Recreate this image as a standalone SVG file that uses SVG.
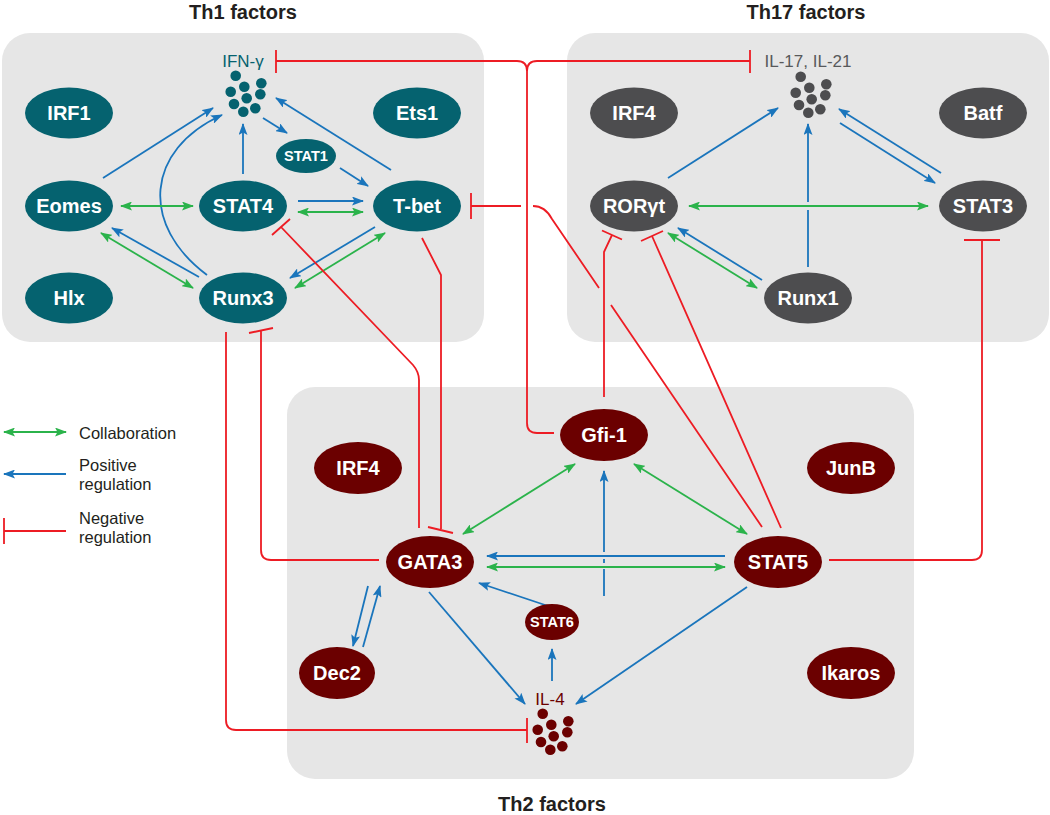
<svg xmlns="http://www.w3.org/2000/svg" xmlns:xlink="http://www.w3.org/1999/xlink" width="1050" height="815" viewBox="0 0 1050 815">
<style>
.box{fill:#e6e6e6}
.title{font-family:"Liberation Sans",Arial,sans-serif;font-weight:bold;font-size:20px;fill:#231f20;text-anchor:middle}
.nt{font-family:"Liberation Sans",Arial,sans-serif;font-weight:bold;font-size:20px;fill:#fff;text-anchor:middle}
.ns{font-family:"Liberation Sans",Arial,sans-serif;font-weight:bold;font-size:14.5px;fill:#fff;text-anchor:middle}
.th1{fill:#05626f}
.th17{fill:#4d4d4f}
.th2{fill:#6b0000}
.lbl{font-family:"Liberation Sans",Arial,sans-serif;font-size:17px;text-anchor:middle}
.leg{font-family:"Liberation Sans",Arial,sans-serif;font-size:16.5px;fill:#231f20}
.b{fill:none;stroke:#1a75bc;stroke-width:1.8;marker-end:url(#ab)}
.bn{fill:none;stroke:#1a75bc;stroke-width:1.8}
.g{fill:none;stroke:#2bb34b;stroke-width:1.8;marker-end:url(#ag);marker-start:url(#ag)}
.r{fill:none;stroke:#ed1c24;stroke-width:1.8}
</style>
<defs>
<marker id="ab" viewBox="0 0 12 9" refX="11" refY="4.5" markerWidth="12" markerHeight="9" markerUnits="userSpaceOnUse" orient="auto-start-reverse"><path d="M0,0 L12,4.5 L0,9 L2.5,4.5 z" fill="#1a75bc"/></marker>
<marker id="ag" viewBox="0 0 12 9" refX="11" refY="4.5" markerWidth="12" markerHeight="9" markerUnits="userSpaceOnUse" orient="auto-start-reverse"><path d="M0,0 L12,4.5 L0,9 L2.5,4.5 z" fill="#2bb34b"/></marker>
<g id="cluster">
<circle cx="-10.3" cy="-18.3" r="5.3"/><circle cx="-1.7" cy="-7.3" r="5.3"/><circle cx="15.3" cy="-10.7" r="5.3"/>
<circle cx="-15.3" cy="-2.3" r="5.3"/><circle cx="0.7" cy="4.3" r="5.3"/><circle cx="14.3" cy="0.3" r="5.3"/>
<circle cx="-12" cy="10" r="5.3"/><circle cx="-2.7" cy="17.7" r="5.3"/><circle cx="9.3" cy="14.3" r="5.3"/>
</g>
</defs>

<g id="boxes">
<rect class="box" x="2" y="33" width="482" height="309" rx="28"/>
<rect class="box" x="567" y="33" width="482" height="309" rx="28"/>
<rect class="box" x="287" y="387" width="627" height="392" rx="28"/>
</g>

<g id="titles">
<text class="title" x="243" y="19">Th1 factors</text>
<text class="title" x="806" y="19">Th17 factors</text>
<text class="title" x="552" y="811">Th2 factors</text>
</g>

<g id="connectors">
<path class="b" d="M103,178 L213,108"/>
<path class="b" d="M207,275 C140,225 145,150 222,115"/>
<path class="b" d="M243,174 L243,124"/>
<path class="b" d="M263,118 L287,133"/>
<path class="b" d="M340,168 L368,186"/>
<path class="b" d="M391,170 L276,98"/>
<path class="b" d="M298,201 L363,201"/>
<path class="b" d="M199,277 L112,228"/>
<path class="b" d="M375,227 L290,278"/>
<path class="g" d="M121,206 L193,206"/>
<path class="g" d="M298,212 L363,212"/>
<path class="g" d="M101,233 L193,288"/>
<path class="g" d="M295,288 L385,233"/>
<path class="b" d="M668,178 L778,108"/>
<path class="bn" d="M808,267 L808,210"/>
<path class="b" d="M808,202 L808,124"/>
<path class="b" d="M941,173 L839,109"/>
<path class="b" d="M840,123 L935,183"/>
<path class="b" d="M762,280 L678,228"/>
<path class="g" d="M689,206 L928,206"/>
<path class="g" d="M668,233 L757,288"/>
<path class="bn" d="M604,596 V569 M604,563 V559"/>
<path class="b" d="M604,552 V471"/>
<path class="b" d="M725,556 L487,556"/>
<path class="b" d="M566,612 L479,583"/>
<path class="b" d="M747,587 L576,704"/>
<path class="b" d="M429,592 L525,704"/>
<path class="b" d="M552,681 L552,649"/>
<path class="b" d="M368,586 L353,646"/>
<path class="b" d="M363,647 L380,586"/>
<path class="g" d="M463,534 L575,464"/>
<path class="g" d="M487,567 L725,567"/>
<path class="g" d="M634,464 L747,534"/>
<path class="r" d="M554,433 H537 Q527,433 527,423 V71 Q527,61 517,61 H276 M276,50 V73"/>
<path class="r" d="M527,71 Q527,61 537,61 H750 M750,50 V73"/>
<path class="r" d="M762,527 L611,305 M599,288 L552,219 Q545,206 533,206 M521,206 H471 M471,193 V219"/>
<path class="r" d="M604,397 V252 L612,235 M602,230.5 L622,239.5"/>
<path class="r" d="M781,528 L652,236 M641,241 L663,231"/>
<path class="r" d="M829,560 H972 Q982,560 982,550 V240 M964,240 H1000"/>
<path class="r" d="M419,528 V380 Q419,372 413,365 L281,227 M272,235 L290,219"/>
<path class="r" d="M422,238 L441,275 V529 M428,527 L453,533"/>
<path class="r" d="M226,332 V720 Q226,730 236,730 H527 M527,718 V743"/>
<path class="r" d="M379,560 H271 Q261,560 261,550 V331 M249,333 L273,328"/>
</g>

<g id="ifng"><text class="lbl" x="243" y="67" fill="#05626f">IFN-γ</text><use xlink:href="#cluster" href="#cluster" x="246" y="94" fill="#05626f"/></g>
<g id="irf1"><ellipse class="th1" cx="69" cy="113" rx="44" ry="25.5"/><text class="nt" x="69" y="120">IRF1</text></g>
<g id="ets1"><ellipse class="th1" cx="417" cy="113" rx="44" ry="25.5"/><text class="nt" x="417" y="120">Ets1</text></g>
<g id="stat1"><ellipse class="th1" cx="306" cy="156" rx="30" ry="17"/><text class="ns" x="306" y="161">STAT1</text></g>
<g id="eomes"><ellipse class="th1" cx="69" cy="206" rx="44" ry="25.5"/><text class="nt" x="69" y="213">Eomes</text></g>
<g id="stat4"><ellipse class="th1" cx="243" cy="206" rx="44" ry="25.5"/><text class="nt" x="243" y="213">STAT4</text></g>
<g id="tbet"><ellipse class="th1" cx="417" cy="206" rx="44" ry="25.5"/><text class="nt" x="417" y="213">T-bet</text></g>
<g id="hlx"><ellipse class="th1" cx="69" cy="298" rx="44" ry="25.5"/><text class="nt" x="69" y="305">Hlx</text></g>
<g id="runx3"><ellipse class="th1" cx="243" cy="298" rx="44" ry="25.5"/><text class="nt" x="243" y="305">Runx3</text></g>

<g id="il17"><text class="lbl" x="808" y="67" fill="#58595b">IL-17, IL-21</text><use xlink:href="#cluster" href="#cluster" x="811" y="95" fill="#4d4d4f"/></g>
<g id="irf4-th17"><ellipse class="th17" cx="634" cy="113" rx="44" ry="25.5"/><text class="nt" x="634" y="120">IRF4</text></g>
<g id="batf"><ellipse class="th17" cx="983" cy="113" rx="44" ry="25.5"/><text class="nt" x="983" y="120">Batf</text></g>
<g id="rorgt"><ellipse class="th17" cx="634" cy="206" rx="44" ry="25.5"/><text class="nt" x="634" y="213">RORγt</text></g>
<g id="stat3"><ellipse class="th17" cx="983" cy="206" rx="44" ry="25.5"/><text class="nt" x="983" y="213">STAT3</text></g>
<g id="runx1"><ellipse class="th17" cx="808" cy="298" rx="44" ry="25.5"/><text class="nt" x="808" y="305">Runx1</text></g>

<g id="gfi1"><ellipse class="th2" cx="604" cy="435" rx="44" ry="26"/><text class="nt" x="604" y="442">Gfi-1</text></g>
<g id="irf4-th2"><ellipse class="th2" cx="358" cy="468" rx="44" ry="26"/><text class="nt" x="358" y="475">IRF4</text></g>
<g id="junb"><ellipse class="th2" cx="851" cy="468" rx="44" ry="26"/><text class="nt" x="851" y="475">JunB</text></g>
<g id="gata3"><ellipse class="th2" cx="430" cy="562" rx="44" ry="26"/><text class="nt" x="430" y="569">GATA3</text></g>
<g id="stat5"><ellipse class="th2" cx="778" cy="562" rx="44" ry="26"/><text class="nt" x="778" y="569">STAT5</text></g>
<g id="stat6"><ellipse class="th2" cx="552" cy="622" rx="27" ry="18"/><text class="ns" x="552" y="627">STAT6</text></g>
<g id="dec2"><ellipse class="th2" cx="337" cy="673" rx="38" ry="26"/><text class="nt" x="337" y="680">Dec2</text></g>
<g id="ikaros"><ellipse class="th2" cx="851" cy="673" rx="44" ry="26"/><text class="nt" x="851" y="680">Ikaros</text></g>
<g id="il4"><text class="lbl" x="550" y="705" fill="#6b0000">IL-4</text><use xlink:href="#cluster" href="#cluster" x="553" y="732" fill="#6b0000"/></g>

<g id="legend">
<path class="g" d="M4,432 H66"/>
<text class="leg" x="79" y="439">Collaboration</text>
<path class="b" d="M66,474 H4"/>
<text class="leg" x="79" y="471">Positive</text>
<text class="leg" x="79" y="490">regulation</text>
<path class="r" d="M4,531 H66 M4,518 V544"/>
<text class="leg" x="79" y="524">Negative</text>
<text class="leg" x="79" y="543">regulation</text>
</g>
</svg>
